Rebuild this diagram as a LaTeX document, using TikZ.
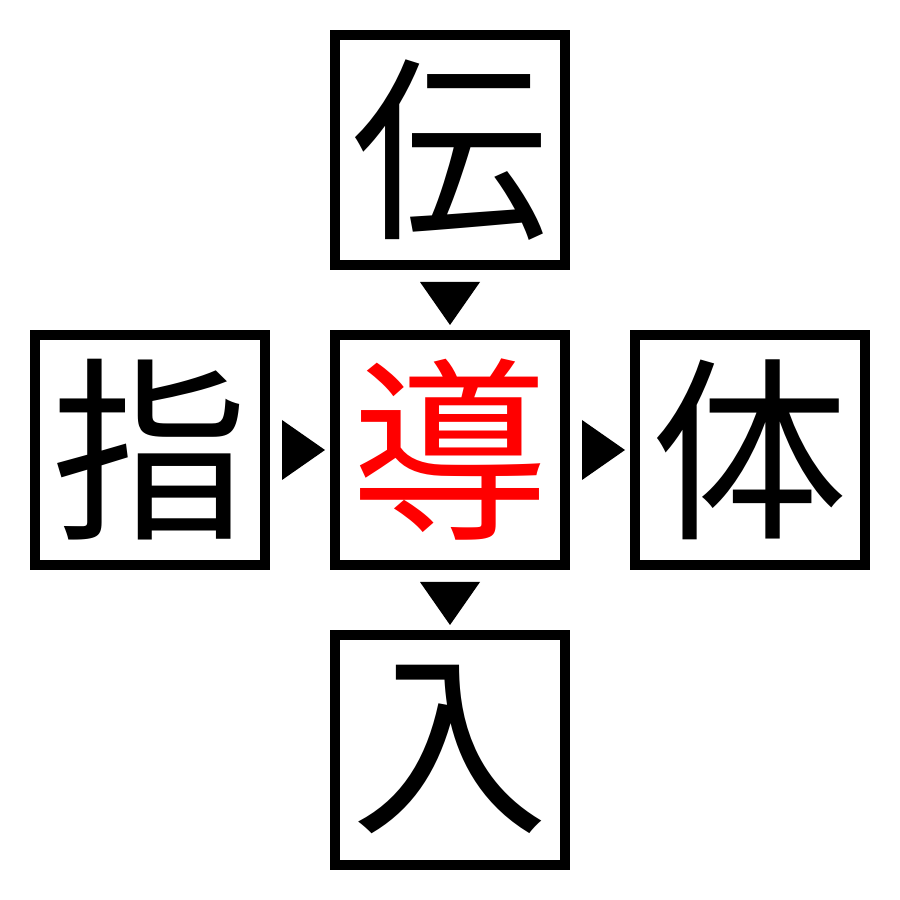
\documentclass[tikz,border=0pt]{standalone}
\usepackage{fontspec}
\newfontfamily\cjk{Noto Sans CJK JP}
\usetikzlibrary{positioning}
\usetikzlibrary{calc}
\newcommand{\kbox}[3]{\node(#1)[kanji,#2]{#3}}
\newcommand{\pointer}[2]{\fill[shift={(#1)},rotate=#2] (-0.48,0.3) -- (-0.05,0) -- (-0.48,-0.3) -- cycle}

\begin{document}
\begin{tikzpicture}[
        node distance=0.6cm,
        kanji/.style={rectangle,minimum size=2.3cm,inner sep=0pt,
                      line width=0.1cm,draw=black,
                      font=\cjk\fontsize{56}{56}\selectfont}
      ]
      \useasboundingbox (0,0) rectangle (9,9);
      \kbox{dao}{at={(4.5,4.5)},text=red}{導};
      \kbox{den}{above=of dao}{伝};
      \kbox{shi}{left=of dao}{指};
      \kbox{tai}{right=of dao}{体};
      \kbox{nyu}{below=of dao}{入};
      \pointer{den.south |- dao.north}{-90};
      \pointer{dao.west}{0};
      \pointer{tai.west}{0};
      \pointer{nyu.north}{-90};
    \end{tikzpicture}
\end{document}
